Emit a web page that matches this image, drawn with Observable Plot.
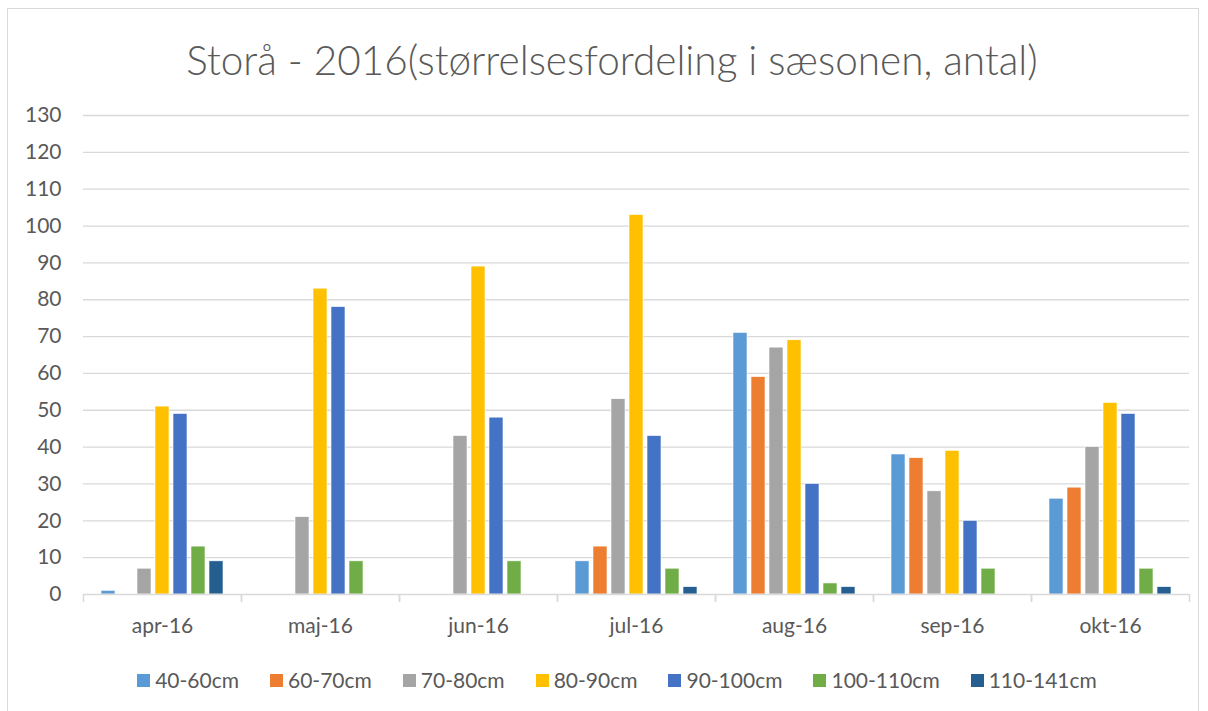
<!DOCTYPE html>
<html>
<head>
<meta charset="utf-8">
<script src="https://cdn.jsdelivr.net/npm/d3@7"></script>
<script src="https://cdn.jsdelivr.net/npm/@observablehq/plot@0.6"></script>
<style>
  html, body { margin: 0; padding: 0; background: #fff; }
  #wrap { position: relative; width: 1208px; height: 711px; overflow: hidden; font-family: Lato, "Open Sans", sans-serif; color: #595959; }
  #border { position: absolute; left: 7px; top: 8px; width: 1192px; height: 720px; border: 1px solid #d9d9d9; box-sizing: border-box; }
  #title { position: absolute; left: 0; width: 1224px; top: 37px; text-align: center; font-size: 40.5px; font-weight: 300; line-height: 46px; color: #595959; }
  #chart { position: absolute; left: 0; top: 100px; }
  #legend { position: absolute; left: 0; width: 1234px; top: 668px; display: flex; justify-content: center; gap: 31px; font-size: 21px; line-height: 24px; }
  .item { display: flex; align-items: center; gap: 5px; }
  .sw { width: 13px; height: 13px; display: inline-block; }
</style>
</head>
<body>
<div id="wrap">
  <div id="border"></div>
  <div id="title">Storå - 2016(størrelsesfordeling i sæsonen, antal)</div>
  <div id="chart"></div>
  <div id="legend"></div>
</div>
<script>
const months = ["apr-16", "maj-16", "jun-16", "jul-16", "aug-16", "sep-16", "okt-16"];
const sizes = ["40-60cm", "60-70cm", "70-80cm", "80-90cm", "90-100cm", "100-110cm", "110-141cm"];
const colors = ["#5b9bd5", "#ed7d31", "#a5a5a5", "#ffc000", "#4472c4", "#70ad47", "#255e91"];
const s40_60   = [1, 0, 0, 9, 71, 38, 26];
const s60_70   = [0, 0, 0, 13, 59, 37, 29];
const s70_80   = [7, 21, 43, 53, 67, 28, 40];
const s80_90   = [51, 83, 89, 103, 69, 39, 52];
const s90_100  = [49, 78, 48, 43, 30, 20, 49];
const s100_110 = [13, 9, 9, 7, 3, 7, 7];
const s110_141 = [9, 0, 0, 2, 2, 0, 2];
const yTicks = [0, 10, 20, 30, 40, 50, 60, 70, 80, 90, 100, 110, 120, 130];

const series = [s40_60, s60_70, s70_80, s80_90, s90_100, s100_110, s110_141];
const rows = [];
months.forEach((m, i) => sizes.forEach((s, j) => rows.push({month: m, size: s, value: series[j][i]})));

const W = 1208, H = 540, mL = 83, mR = 19, mT = 15, mB = 46;
const fw = (W - mL - mR) / months.length;

const chart = Plot.plot({
  width: W, height: H,
  marginLeft: mL, marginRight: mR, marginTop: mT, marginBottom: mB,
  style: {fontFamily: "Lato, 'Open Sans', sans-serif", fontSize: "21px", color: "#595959", background: "transparent", overflow: "visible"},
  fx: {domain: months, padding: 0, label: null, axis: null},
  x: {domain: sizes, paddingInner: 0.23, paddingOuter: 0.86, axis: null},
  y: {domain: [0, 130], label: null},
  color: {domain: sizes, range: colors},
  marks: [
    Plot.gridY(yTicks.filter(v => v > 0), {stroke: "#d9d9d9", strokeOpacity: 1, strokeWidth: 1.3}),
    Plot.axisY(yTicks, {tickSize: 0, tickPadding: 22, label: null, fill: "#595959"}),
    Plot.barY(rows, {fx: "month", x: "size", y: "value", fill: "size", stroke: "#ffffff", strokeWidth: 0.6}),
    Plot.ruleY([0], {stroke: "#d9d9d9", strokeWidth: 1.5}),
    Plot.axisFx({anchor: "bottom", tickSize: 0, tickPadding: 24, label: null, fill: "#595959"}),
    Plot.axisFx({anchor: "bottom", tickSize: 8, text: null, label: null, dx: -fw / 2, stroke: "#d9d9d9", strokeWidth: 1.5, strokeOpacity: 1}),
    Plot.axisFx({anchor: "bottom", tickSize: 8, text: null, label: null, dx: fw / 2, stroke: "#d9d9d9", strokeWidth: 1.5, strokeOpacity: 1})
  ]
});
document.getElementById("chart").appendChild(chart);

const legend = document.getElementById("legend");
sizes.forEach((s, i) => {
  const it = document.createElement("div");
  it.className = "item";
  const sw = document.createElement("span");
  sw.className = "sw";
  sw.style.background = colors[i];
  const tx = document.createElement("span");
  tx.textContent = s;
  it.appendChild(sw);
  it.appendChild(tx);
  legend.appendChild(it);
});
</script>
</body>
</html>
